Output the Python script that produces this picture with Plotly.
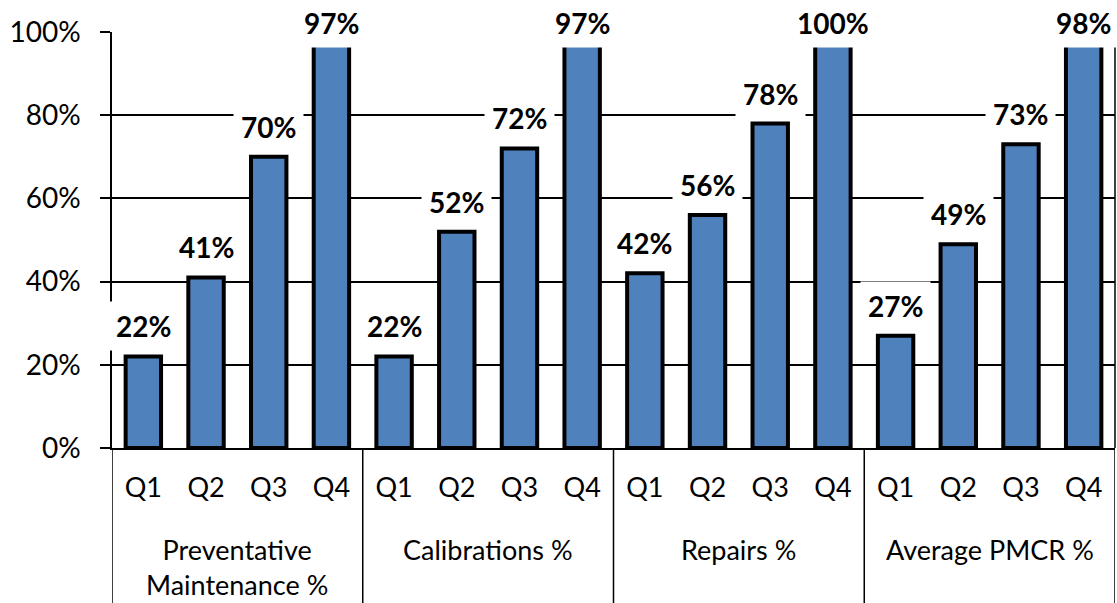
import plotly.graph_objects as go

groups = ["Preventative<br>Maintenance %", "Calibrations %", "Repairs %", "Average PMCR %"]
quarters = ["Q1", "Q2", "Q3", "Q4"]
values = {
    "Preventative<br>Maintenance %": [0.22, 0.41, 0.70, 0.97],
    "Calibrations %": [0.22, 0.52, 0.72, 0.97],
    "Repairs %": [0.42, 0.56, 0.78, 1.00],
    "Average PMCR %": [0.27, 0.49, 0.73, 0.98],
}

xkeys, xtext, yv = [], [], []
for gi, g in enumerate(groups):
    for q, v in zip(quarters, values[g]):
        xkeys.append("G%d %s" % (gi, q))
        xtext.append(q)
        yv.append(v)

FONT = "Lato"
PLOT_H = 416
BOTTOM = 155
n = len(xkeys)

fig = go.Figure()
fig.add_trace(go.Bar(
    x=xkeys, y=yv,
    marker=dict(color="#4F81BD", line=dict(color="black", width=4)),
    showlegend=False,
))

annotations = []
for i, v in enumerate(yv):
    shift = min(30, (1 - v) * PLOT_H + 9)
    annotations.append(dict(
        x=i, y=v, xref="x", yref="y", text="<b>%d%%</b>" % round(v * 100),
        showarrow=False, yanchor="middle", yshift=shift,
        font=dict(family=FONT, size=28, color="black"),
        bgcolor="white", borderpad=7,
    ))
ng = len(quarters)
for gi, g in enumerate(groups):
    annotations.append(dict(
        x=gi * ng + (ng - 1) / 2, y=-83 / PLOT_H, xref="x", yref="paper",
        text=g, showarrow=False, yanchor="top",
        font=dict(family=FONT, size=27, color="black"),
    ))

shapes = []
for gi in range(len(groups) + 1):
    shapes.append(dict(type="line", xref="x", yref="paper",
                       x0=gi * ng - 0.5, x1=gi * ng - 0.5,
                       y0=-BOTTOM / PLOT_H, y1=0,
                       line=dict(color="black", width=1.5)))
shapes.append(dict(type="line", xref="paper", yref="paper", x0=1, x1=1, y0=0, y1=1,
                   line=dict(color="black", width=1.5)))

fig.update_layout(
    width=1117, height=603,
    margin=dict(l=112, r=2, t=32, b=BOTTOM),
    paper_bgcolor="white", plot_bgcolor="white",
    bargap=0.435,
    font=dict(family=FONT, size=27, color="black"),
    annotations=annotations,
    shapes=shapes,
)
fig.update_yaxes(
    range=[0, 1], tickvals=[0, 0.2, 0.4, 0.6, 0.8, 1.0], tickformat=".0%",
    showgrid=True, gridcolor="black", gridwidth=1.5,
    showline=True, linecolor="black", linewidth=1.5,
    ticks="outside", ticklen=10, tickcolor="black", tickwidth=1.5,
    zeroline=False, tickfont=dict(size=28, family=FONT), automargin=False,
    ticklabelstandoff=14,
)
fig.update_xaxes(
    type="category", range=[-0.5, n - 0.5],
    tickvals=xkeys, ticktext=xtext,
    showline=True, linecolor="black", linewidth=2,
    tickfont=dict(size=27, family=FONT), ticks="", ticklabelstandoff=15,
    automargin=False,
)

fig.write_html("out.html", config={"displayModeBar": False},
               post_script="document.body.style.margin='0';document.body.style.overflow='hidden';")
